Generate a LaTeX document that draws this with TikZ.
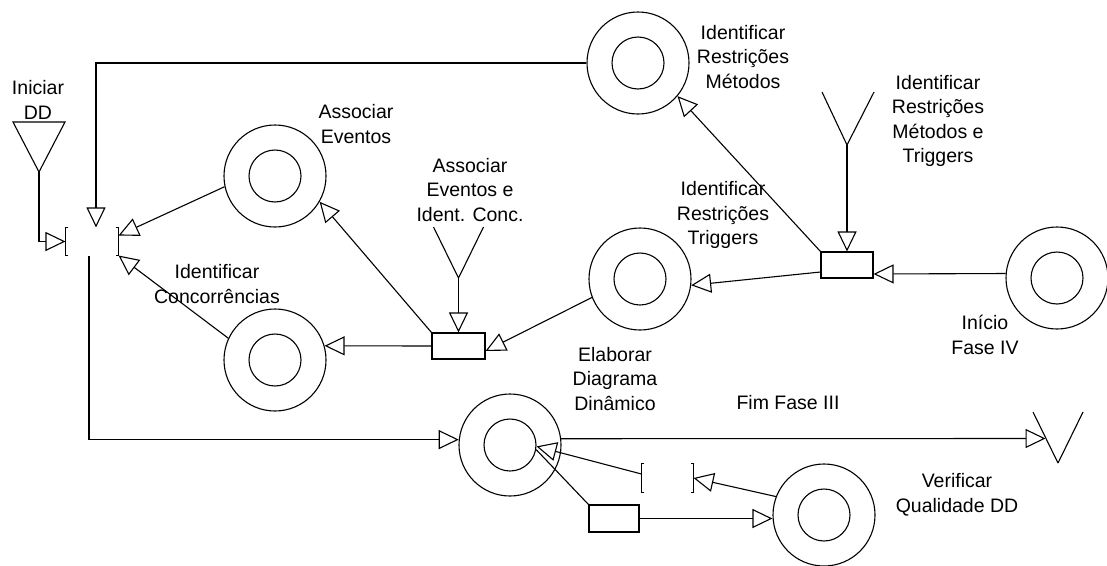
\documentclass[tikz,border=0pt]{standalone}
\usepackage{fontspec}
\setmainfont{Liberation Sans}
\usetikzlibrary{arrows.meta}
\begin{document}
\begin{tikzpicture}[x=1pt,y=-1pt,
  line width=1.1pt,
  proc/.style={circle,draw,minimum size=102pt,inner sep=0pt},
  procin/.style={circle,draw,minimum size=52pt,inner sep=0pt},
  jbox/.style={rectangle,draw,inner sep=0pt},
  junc/.style={rectangle,inner sep=0pt},
  lbl/.style={align=center,inner sep=0pt,font=\fontsize{19.5}{24.5}\selectfont},
  arr/.style={-{Triangle[open,length=20pt,width=19pt]}},
]
\useasboundingbox (0,0) rectangle (1107,565);

% processes
\node[proc] (irm) at (638,63) {};   \node[procin] (irmi) at (irm) {};
\node[proc] (ae)  at (275,176) {};  \node[procin] (aei) at (ae) {};
\node[proc] (ic)  at (275,360) {};  \node[procin] (ici) at (ic) {};
\node[proc] (irt) at (640,279) {};  \node[procin] (irti) at (irt) {};
\node[proc] (ifiv) at (1057,278) {};\node[procin] (ifivi) at (ifiv) {};
\node[proc] (edd) at (510,445) {};  \node[procin] (eddi) at (edd) {};
\node[proc] (vq)  at (824,515) {};  \node[procin] (vqi) at (vq) {};

% boxes
\node[jbox,minimum width=53pt,minimum height=26pt] (b1) at (458.5,346) {};
\node[jbox,minimum width=52pt,minimum height=26pt] (b2) at (847,265) {};
\node[jbox,minimum width=50pt,minimum height=27pt] (b3) at (614,518.5) {};

% bracket junctions
\node[junc,minimum width=52pt,minimum height=27pt] (jn) at (92,241.5) {};
\node[junc,minimum width=51pt,minimum height=28pt] (jb) at (667.5,478) {};
\foreach \j in {jn,jb}{
  \draw ([xshift=3pt]\j.north west) -- (\j.north west) -- (\j.south west) -- ([xshift=3pt]\j.south west);
  \draw ([xshift=-3pt]\j.north east) -- (\j.north east) -- (\j.south east) -- ([xshift=-3pt]\j.south east);
}

% sources / sinks
\coordinate (idd) at (39,172);
\draw (idd) -- ++(-26,-50) -- ++(52,0) -- cycle;
\coordinate (y1) at (458.5,278);
\draw (y1) -- ++(-25,-51) (y1) -- ++(25,-51);
\coordinate (y2) at (847,145);
\draw (y2) -- ++(-25,-53) (y2) -- ++(27,-53);
\coordinate (vs) at (1058,463);
\draw (vs) -- ++(-25,-51) (vs) -- ++(25,-51);
\coordinate (vt) at (1045.5,438.5);

% connectors
\draw[arr] (idd) |- (jn.west);
\draw[arr] (irm.west) -| ([xshift=4pt]jn.north);
\draw[arr] (ae.192) -- ([yshift=6pt]jn.east);
\draw[arr] (ic.155) -- (jn.south east);
\draw[arr] ([xshift=-3pt]jn.south) |- (edd.174);
\draw[arr] (b1.west) -- (ic.16);
\draw[arr] (b1.north west) -- (ae.-30);
\draw[arr] (y1) -- (b1.north);
\draw[arr] (irt.201) -- ([yshift=-5pt]b1.east);
\draw[arr] ([yshift=-7pt]b2.west) -- (irt.-7);
\draw[arr] (b2.north west) -- (irm.-40);
\draw[arr] (y2) -- (b2.north);
\draw[arr] (ifiv.175) -- ([yshift=-9pt]b2.east);
\draw[arr] (edd.7) -- (vt);
\draw[arr] (b3.east) -- (b3.east -| vq.west);
\draw[arr] (vq.159) -- (jb.east);
\draw[arr] ([yshift=4pt]jb.west) -- (eddi.-3);
\draw (b3.north west) -- (eddi.-10);

% labels
\node[lbl] at (38,100) {Iniciar\\DD};
\node[lbl] at (356,124) {Associar\\Eventos};
\node[lbl] at (470,190) {Associar\\Eventos e\\Ident. Conc.};
\node[lbl] at (217,284) {Identificar\\Concorrências};
\node[lbl] at (743,57) {Identificar\\Restrições\\Métodos};
\node[lbl] at (723,215) {Identificar\\Restrições\\Triggers};
\node[lbl] at (938,121) {Identificar\\Restrições\\Métodos e\\Triggers};
\node[lbl] at (985,335) {Início\\Fase IV};
\node[lbl] at (615,379) {Elaborar\\Diagrama\\Dinâmico};
\node[lbl] at (788,403) {Fim Fase III};
\node[lbl] at (957,495) {Verificar\\Qualidade DD};
\end{tikzpicture}
\end{document}
